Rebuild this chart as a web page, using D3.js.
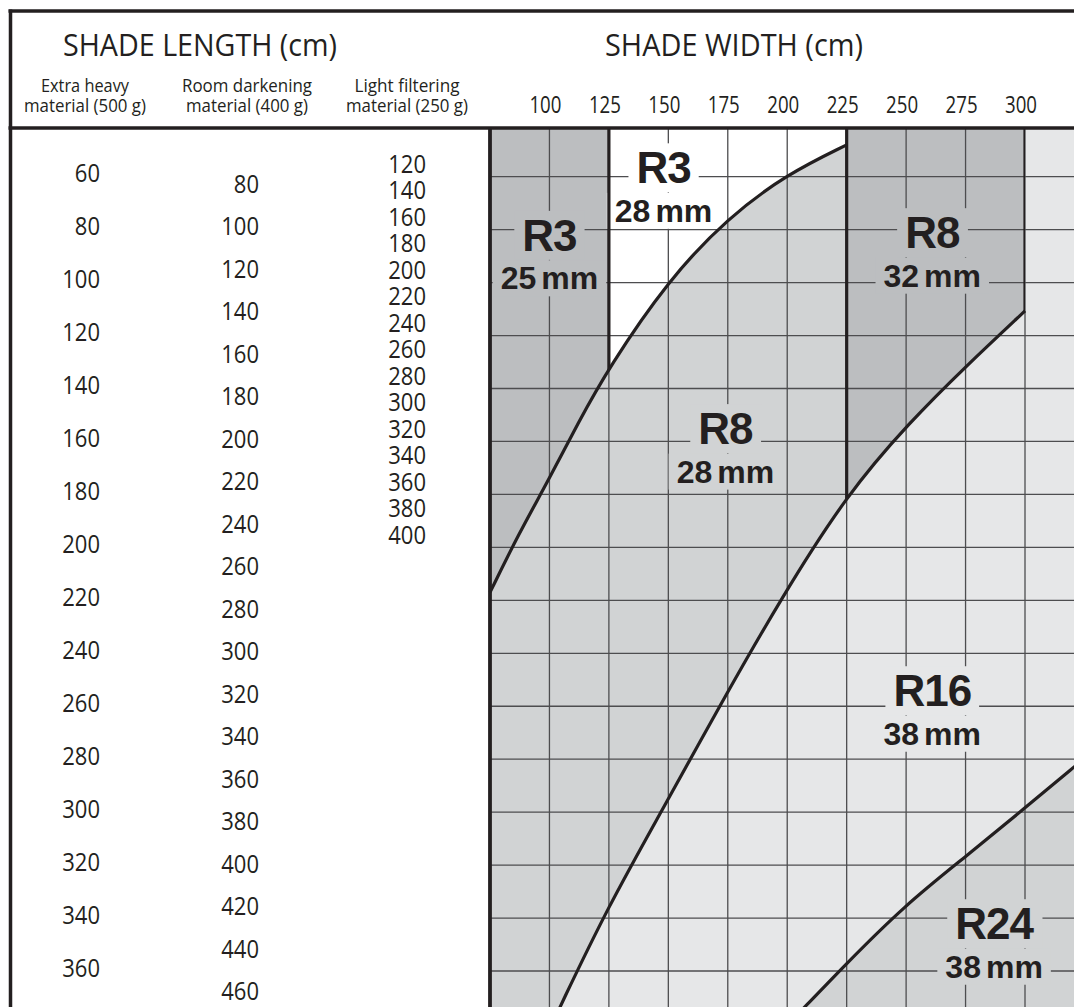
<!DOCTYPE html>
<html>
<head>
<meta charset="utf-8">
<script src="https://cdn.jsdelivr.net/npm/d3@7"></script>
<style>
body { margin: 0; background: #fff; }
svg { display: block; font-family: "Open Sans", sans-serif; }
</style>
</head>
<body>
<svg></svg>
<script>
var width = 1074,
    height = 1007;

// shade lengths (cm) for each material weight
var heavyLengths = [60, 80, 100, 120, 140, 160, 180, 200, 220, 240, 260, 280, 300, 320, 340, 360];
var roomLengths = [80, 100, 120, 140, 160, 180, 200, 220, 240, 260, 280, 300, 320, 340, 360, 380, 400, 420, 440, 460];
var lightLengths = [120, 140, 160, 180, 200, 220, 240, 260, 280, 300, 320, 340, 360, 380, 400];

// shade widths (cm)
var widthTicks = [100, 125, 150, 175, 200, 225, 250, 275, 300];
var gridWidths = [100, 125, 150, 175, 200, 225, 250, 275, 300, 325];
var gridLengths = [60, 80, 100, 120, 140, 160, 180, 200, 220, 240, 260, 280, 300, 320, 340, 360, 380];

var materialNames = ["Extra heavy", "Room darkening", "Light filtering"];
var materialWeights = ["material (500 g)", "material (400 g)", "material (250 g)"];

// zone borders, [width cm, extra heavy length cm]
var curveA = [[75, 217], [87, 195], [100, 174], [112, 153], [125, 132], [150, 99], [175, 75.5], [200, 59], [225, 48]];
var curveB = [[300, 110.7], [274.8, 131.9], [251.7, 152.5], [225, 180], [197, 219.9], [173, 257.6], [146.5, 300.7], [124.6, 335.8], [104.4, 373.6], [98, 386]];
var curveD = [[331.6, 274.6], [320.6, 283], [300, 298.4], [274.8, 317], [249.5, 335.1], [223, 358.9], [207.5, 373.6], [198, 382]];

// box edges (width cm) and the zone border they stop at
var boxEdges = [[125, "aboveA"], [225, "aboveB"], [300, "aboveB"]];

var zoneLabels = [
    {name: "R3", tube: "28", region: "white", w: 148, l: 62.5},
    {name: "R3", tube: "25", region: "dark", w: 100, l: 88},
    {name: "R8", tube: "32", region: "dark", w: 261, l: 87},
    {name: "R8", tube: "28", region: "mid", w: 174, l: 161},
    {name: "R16", tube: "38", region: "light", w: 261, l: 260},
    {name: "R24", tube: "38", region: "mid", w: 287, l: 348}
];

var regionColor = {
    white: "#ffffff",
    dark: "#bcbec0",
    mid: "#d1d3d4",
    light: "#e6e7e8"
};

var ink = "#231f20";
var plotTop = 128;

var svg = d3.select("svg")
    .attr("width", width)
    .attr("height", height);

svg.append("rect")
    .attr("width", width)
    .attr("height", height)
    .attr("fill", "#fff");

var x = d3.scaleLinear().domain([75, 300]).range([490, 1025]);
var y = d3.scaleLinear().domain([60, 360]).range([176.7, 971]);

// text centres of the three length columns
var yHeavy = d3.scaleLinear().domain([60, 360]).range([173.7, 968]);
var yRoom = d3.scaleLinear().domain([80, 460]).range([184, 991.5]);
var yLight = d3.scaleLinear().domain([120, 400]).range([164, 535]);

var lTop = y.invert(plotTop),
    lBot = y.invert(height + 45),
    wRight = x.invert(width + 30);

var curve = d3.line()
    .x(function (d) { return x(d[0]); })
    .y(function (d) { return y(d[1]); })
    .curve(d3.curveBasis);

function shape(points, tail) {
    return curve(points) + tail.map(function (p) {
        return "L" + x(p[0]) + "," + y(p[1]);
    }).join("") + "Z";
}

var defs = svg.append("defs");
defs.append("clipPath").attr("id", "aboveA")
    .append("path").attr("d", shape(curveA, [[225, lTop], [75, lTop]]));
defs.append("clipPath").attr("id", "aboveB")
    .append("path").attr("d", shape(curveB, [[75, lBot], [75, lTop], [300, lTop]]));

// fills
svg.append("rect")
    .attr("x", x(75)).attr("y", plotTop)
    .attr("width", width - x(75)).attr("height", height - plotTop)
    .attr("fill", regionColor.light);

var gB = svg.append("g").attr("clip-path", "url(#aboveB)");
gB.append("rect")
    .attr("x", x(75)).attr("y", plotTop)
    .attr("width", x(225) - x(75)).attr("height", height - plotTop)
    .attr("fill", regionColor.mid);
gB.append("rect")
    .attr("x", x(225)).attr("y", plotTop)
    .attr("width", x(300) - x(225)).attr("height", height - plotTop)
    .attr("fill", regionColor.dark);

var gA = svg.append("g").attr("clip-path", "url(#aboveA)");
gA.append("rect")
    .attr("x", x(75)).attr("y", plotTop)
    .attr("width", x(125) - x(75)).attr("height", height - plotTop)
    .attr("fill", regionColor.dark);
gA.append("rect")
    .attr("x", x(125)).attr("y", plotTop)
    .attr("width", x(225) - x(125)).attr("height", height - plotTop)
    .attr("fill", regionColor.white);

svg.append("path")
    .attr("d", shape(curveD, [[198, lBot], [wRight, lBot], [wRight, 274.6]]))
    .attr("fill", regionColor.mid);

// grid
var grid = svg.append("g")
    .attr("stroke", "#4d4d4f")
    .attr("stroke-width", 1.3);

grid.selectAll(".gv")
    .data(gridWidths)
    .enter()
    .append("line")
    .attr("x1", x).attr("x2", x)
    .attr("y1", plotTop).attr("y2", height);

grid.selectAll(".gh")
    .data(gridLengths)
    .enter()
    .append("line")
    .attr("x1", x(75)).attr("x2", width)
    .attr("y1", y).attr("y2", y);

var knockLayer = svg.append("g");
var borderLayer = svg.append("g")
    .attr("fill", "none")
    .attr("stroke", ink)
    .attr("stroke-width", 3.2);
var labelLayer = svg.append("g")
    .attr("font-family", "'Liberation Sans', Arial, sans-serif")
    .attr("font-weight", "bold")
    .attr("fill", ink)
    .attr("text-anchor", "middle");

// box edges run down to their zone border
boxEdges.forEach(function (d) {
    borderLayer.append("line")
        .attr("clip-path", "url(#" + d[1] + ")")
        .attr("x1", x(d[0])).attr("x2", x(d[0]))
        .attr("y1", plotTop).attr("y2", height);
});

borderLayer.append("line")
    .attr("x1", x(75)).attr("x2", x(75))
    .attr("y1", plotTop).attr("y2", height)
    .attr("stroke-width", 3.8);

// zone borders
[curveA, curveB, curveD].forEach(function (c) {
    borderLayer.append("path").attr("d", curve(c));
});

// zone labels, with the grid knocked out behind them
zoneLabels.forEach(function (d) {
    var cx = x(d.w), cy = y(d.l);
    var t1 = labelLayer.append("text")
        .attr("x", cx).attr("y", cy)
        .attr("font-size", 44)
        .attr("letter-spacing", -1)
        .text(d.name);
    var t2 = labelLayer.append("text")
        .attr("x", cx).attr("y", cy + 38.5)
        .attr("font-size", 32);
    t2.append("tspan").text(d.tube);
    t2.append("tspan").attr("dx", 5).text("mm");

    [t1, t2].forEach(function (t) {
        var b = t.node().getBBox();
        knockLayer.append("rect")
            .attr("x", b.x - 8).attr("y", b.y)
            .attr("width", b.width + 16).attr("height", b.height)
            .attr("fill", regionColor[d.region]);
    });
});

// length columns
var columns = [
    {values: heavyLengths, scale: yHeavy, right: 100, center: 85},
    {values: roomLengths, scale: yRoom, right: 259, center: 247},
    {values: lightLengths, scale: yLight, right: 426, center: 407}
];
var nameLen = [88, 130, 105];

var textLayer = svg.append("g").attr("fill", ink);

columns.forEach(function (col, i) {
    textLayer.selectAll(".c" + i)
        .data(col.values)
        .enter()
        .append("text")
        .attr("x", col.right)
        .attr("y", col.scale)
        .attr("dy", "0.35em")
        .attr("text-anchor", "end")
        .attr("font-size", 25)
        .attr("textLength", function (d) { return String(d).length * 12.6; })
        .attr("lengthAdjust", "spacingAndGlyphs")
        .text(function (d) { return d; });

    textLayer.append("text")
        .attr("x", col.center).attr("y", 92)
        .attr("text-anchor", "middle")
        .attr("font-size", 18.5)
        .attr("textLength", nameLen[i])
        .attr("lengthAdjust", "spacingAndGlyphs")
        .text(materialNames[i]);

    textLayer.append("text")
        .attr("x", col.center).attr("y", 112)
        .attr("text-anchor", "middle")
        .attr("font-size", 18.5)
        .attr("textLength", 122)
        .attr("lengthAdjust", "spacingAndGlyphs")
        .text(materialWeights[i]);
});

textLayer.selectAll(".wt")
    .data(widthTicks)
    .enter()
    .append("text")
    .attr("x", function (d) { return x(d) - 4; })
    .attr("y", 113)
    .attr("text-anchor", "middle")
    .attr("font-size", 23)
    .attr("textLength", 32)
    .attr("lengthAdjust", "spacingAndGlyphs")
    .text(function (d) { return d; });

textLayer.append("text")
    .attr("x", 200).attr("y", 56)
    .attr("text-anchor", "middle")
    .attr("font-size", 31)
    .attr("textLength", 274)
    .attr("lengthAdjust", "spacingAndGlyphs")
    .text("SHADE LENGTH (cm)");

textLayer.append("text")
    .attr("x", 734).attr("y", 56)
    .attr("text-anchor", "middle")
    .attr("font-size", 31)
    .attr("textLength", 258)
    .attr("lengthAdjust", "spacingAndGlyphs")
    .text("SHADE WIDTH (cm)");

// frame
var frame = svg.append("g")
    .attr("stroke", ink)
    .attr("stroke-width", 3.5);
frame.append("line").attr("x1", 8.5).attr("x2", width).attr("y1", 11).attr("y2", 11);
frame.append("line").attr("x1", 10.5).attr("x2", 10.5).attr("y1", 9.5).attr("y2", height);
frame.append("line").attr("x1", 8.5).attr("x2", width).attr("y1", plotTop).attr("y2", plotTop);
</script>
</body>
</html>
